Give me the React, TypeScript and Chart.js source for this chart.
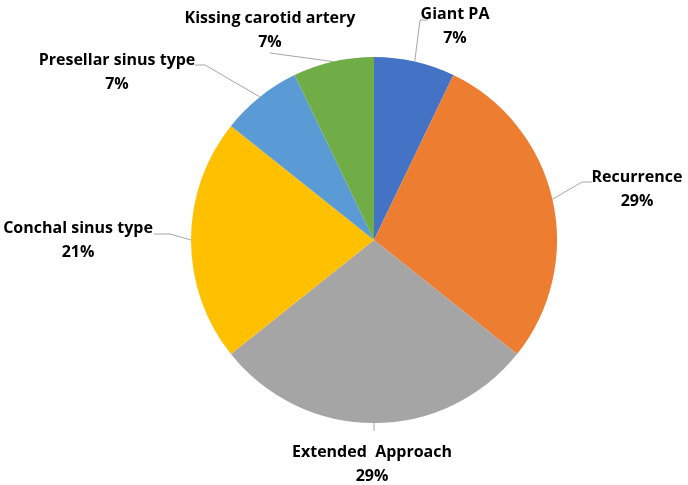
import React, { useEffect, useRef } from "react";
import { Chart, registerables } from "chart.js";

Chart.register(...registerables);

const categories = [
  "Giant PA",
  "Recurrence",
  "Extended  Approach",
  "Conchal sinus type",
  "Presellar sinus type",
  "Kissing carotid artery",
];
const counts = [1, 4, 4, 3, 1, 1];
const percentLabels = ["7%", "29%", "29%", "21%", "7%", "7%"];
const colors = ["#4472C4", "#ED7D31", "#A5A5A5", "#FFC000", "#5B9BD5", "#70AD47"];

// label layout: text block centre, and leader path (elbow, end) outside the pie
const labelLayout = [
  { tx: 455, ty: 14, path: [[420, 20], [428, 20]] },
  { tx: 637, ty: 177, path: [[582, 182], [592, 182]] },
  { tx: 372, ty: 452, path: [[374, 431]] },
  { tx: 78, ty: 228, path: [[170, 234], [154, 234]] },
  { tx: 117, ty: 60, path: [[205, 65], [195, 65]] },
  { tx: 270, ty: 18, path: [[270, 53]] },
];

const FONT = "bold 16px 'Open Sans', 'DejaVu Sans', sans-serif";

const labelPlugin = {
  id: "outerLabels",
  afterDraw(chart: any) {
    const ctx = chart.ctx;
    const meta = chart.getDatasetMeta(0);
    ctx.save();
    meta.data.forEach((arc: any, i: number) => {
      const { x, y, startAngle, endAngle, outerRadius } = arc.getProps(
        ["x", "y", "startAngle", "endAngle", "outerRadius"],
        true
      );
      const mid = (startAngle + endAngle) / 2;
      const sx = x + Math.cos(mid) * outerRadius;
      const sy = y + Math.sin(mid) * outerRadius;
      const lay = labelLayout[i];
      ctx.strokeStyle = "#A6A6A6";
      ctx.lineWidth = 1;
      ctx.beginPath();
      ctx.moveTo(sx, sy);
      lay.path.forEach((p) => ctx.lineTo(p[0], p[1]));
      ctx.stroke();
      ctx.fillStyle = "#000000";
      ctx.font = FONT;
      ctx.textAlign = "center";
      ctx.textBaseline = "middle";
      ctx.fillText(categories[i], lay.tx, lay.ty);
      ctx.fillText(percentLabels[i], lay.tx, lay.ty + 24);
    });
    ctx.restore();
  },
};

export default function App() {
  const ref = useRef<HTMLCanvasElement>(null);
  useEffect(() => {
    document.body.style.margin = "0";
    const chart = new Chart(ref.current!, {
      type: "pie",
      data: {
        labels: categories,
        datasets: [
          {
            data: counts,
            backgroundColor: colors,
            borderWidth: 0,
          },
        ],
      },
      options: {
        animation: false,
        responsive: false,
        layout: { padding: { left: 191, right: 131, top: 57, bottom: 62 } },
        plugins: {
          legend: { display: false },
          tooltip: { enabled: false },
        },
      },
      plugins: [labelPlugin],
    });
    return () => chart.destroy();
  }, []);
  return (
    <div style={{ width: 688, height: 485, background: "#fff" }}>
      <canvas ref={ref} width={688} height={485} />
    </div>
  );
}
